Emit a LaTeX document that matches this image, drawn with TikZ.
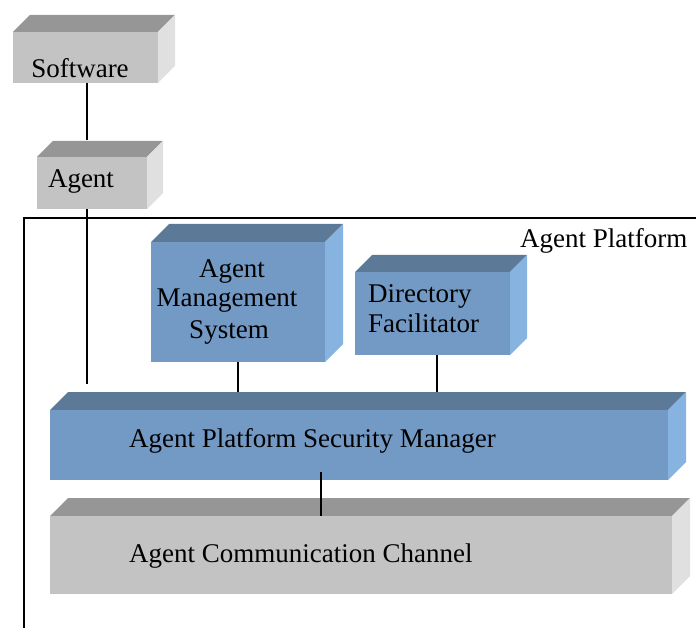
\documentclass[tikz,border=0pt]{standalone}
\usepackage{fontspec}
\setmainfont{Liberation Serif}
\definecolor{gfront}{RGB}{195,195,195}
\definecolor{gtop}{RGB}{150,150,150}
\definecolor{gside}{RGB}{224,224,224}
\definecolor{bfront}{RGB}{115,153,197}
\definecolor{btop}{RGB}{92,121,151}
\definecolor{bside}{RGB}{134,179,224}
\newcommand\cubebox[9]{%
  \pgfmathsetmacro\cbw{#4-#2}%
  \pgfmathsetmacro\cbh{#5-#3}%
  \fill[#8] (#2,#3) -- ++(#6,-#6) -- ++(\cbw,0) -- (#4,#3) -- cycle;
  \fill[#9] (#4,#3) -- ++(#6,-#6) -- ++(0,\cbh) -- (#4,#5) -- cycle;
  \node[face,fill=#7,minimum width=\cbw pt,minimum height=\cbh pt] (#1) at (#2,#3) {};
}
\begin{document}
\begin{tikzpicture}[x=1pt,y=-1pt,
  face/.style={anchor=north west,inner sep=0pt,outer sep=0pt,draw=none},
  lbl/.style={font=\fontsize{27}{30}\selectfont,inner sep=0pt,anchor=base},
  lbll/.style={lbl,anchor=base west},
  conn/.style={line width=2.1pt},
  frame/.style={line width=2.3pt}]
\useasboundingbox (0,0) rectangle (696,628);
% boxes
\cubebox{sw}{13}{32}{158}{83}{17}{gfront}{gtop}{gside}
\cubebox{ag}{37}{157}{147}{209}{16}{gfront}{gtop}{gside}
\cubebox{ams}{151}{242}{325}{362}{18}{bfront}{btop}{bside}
\cubebox{df}{355}{272}{510}{355}{17}{bfront}{btop}{bside}
\cubebox{apsm}{50}{410}{668}{480}{18}{bfront}{btop}{bside}
\cubebox{acc}{50}{516}{672}{594}{18}{gfront}{gtop}{gside}
% texts
\node[lbl] (tsw) at (80,78) {Software};
\node[lbl] (tag) at (81,188) {Agent};
\node[lbl] (tams1) at (232,278) {Agent};
\node[lbl] (tams2) at (227,307) {Management};
\node[lbl] (tams3) at (229,338) {System};
\node[lbll] (tdf1) at (368,303) {Directory};
\node[lbll] (tdf2) at (368,333) {Facilitator};
\node[lbll] (tap) at (520,248) {Agent Platform};
\node[lbll] (tapsm) at (129,447) {Agent Platform Security Manager};
\node[lbll] (tacc) at (129,562) {Agent Communication Channel};
% frame
\coordinate (fr1) at (696,218);
\coordinate (fr2) at (24,218);
\coordinate (fr3) at (24,628);
\draw[frame] (fr1) -- (fr2) -- (fr3);
% connectors
\coordinate (agtop) at (87,140);
\coordinate (agend) at (87,384);
\coordinate (apsmtop) at (0,392);
\coordinate (amsb) at (238,362);
\coordinate (dfb) at (437,355);
\coordinate (accfront) at (321,516);
\coordinate (apsmin) at (321,472);
\draw[conn] (sw.south -| agtop) -- (agtop);
\draw[conn] (ag.south -| agtop) -- (agend);
\draw[conn] (amsb) -- (apsmtop -| amsb);
\draw[conn] (dfb) -- (apsmtop -| dfb);
\draw[conn] (apsmin) -- (accfront);
\end{tikzpicture}
\end{document}
